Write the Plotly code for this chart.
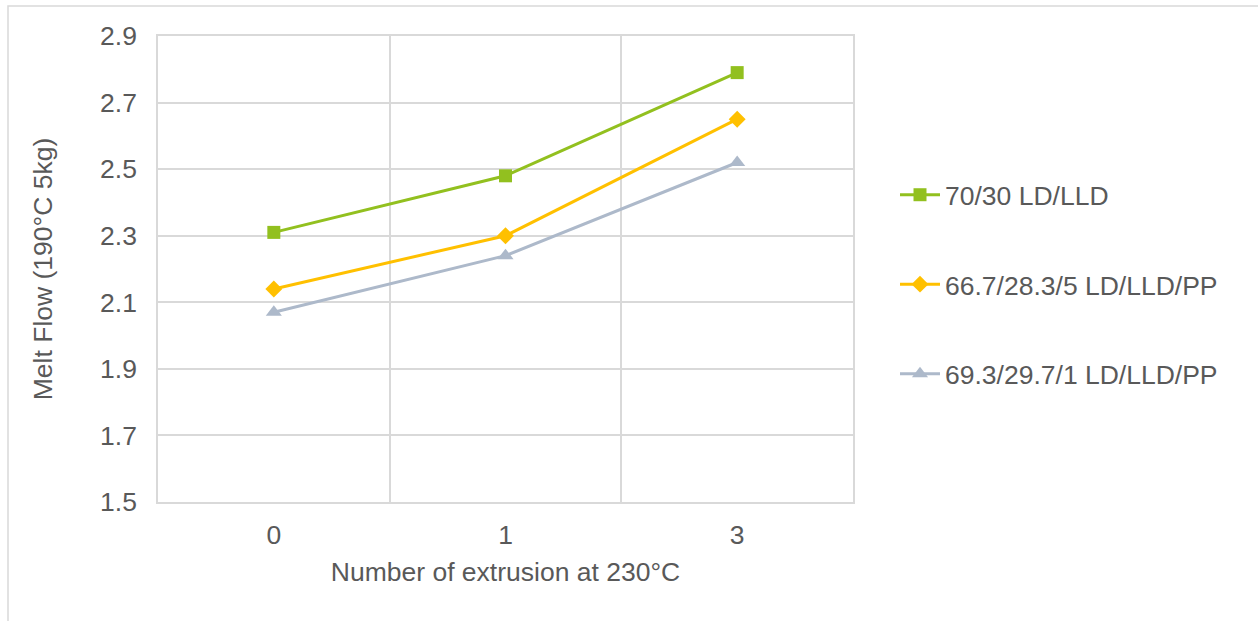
import plotly.graph_objects as go

categories = ["0", "1", "3"]
series_names = ["70/30 LD/LLD", "66.7/28.3/5 LD/LLD/PP", "69.3/29.7/1 LD/LLD/PP"]
green_vals = [2.31, 2.48, 2.79]
orange_vals = [2.14, 2.30, 2.65]
gray_vals = [2.07, 2.24, 2.52]
y_ticks = [1.5, 1.7, 1.9, 2.1, 2.3, 2.5, 2.7, 2.9]

colors = ["#92C01F", "#FFC000", "#ADB9CA"]
symbols = ["square", "diamond", "triangle-up"]
sizes = [13, 13, 14]

x_pos = list(range(len(categories)))
fig = go.Figure()
for i, (name, vals) in enumerate(zip(series_names, [green_vals, orange_vals, gray_vals])):
    fig.add_trace(go.Scatter(
        x=x_pos, y=vals, name=name, mode="lines+markers",
        line=dict(color=colors[i], width=3),
        marker=dict(symbol=symbols[i], size=sizes[i], color=colors[i]),
        legendgroup=f"g{i}",
    ))

W, H = 1258, 621
ml, mr, mt, mb = 158, 405, 36, 119
pw, ph = W - ml - mr, H - mt - mb

FS = 26.5
font = dict(family="Liberation Sans, Arial, sans-serif", size=FS, color="#595959")
grid = "#d9d9d9"

fig.update_layout(
    width=W, height=H,
    margin=dict(l=ml, r=mr, t=mt, b=mb, pad=0),
    paper_bgcolor="white", plot_bgcolor="white",
    font=font,
    showlegend=True,
    legend=dict(x=(895 - ml) / pw, y=(502 - 171) / ph, xanchor="left", yanchor="top",
                font=font, tracegroupgap=52,
                bgcolor="rgba(0,0,0,0)", itemwidth=40),
    xaxis=dict(
        range=[-0.5, 2.5], tickmode="array", tickvals=x_pos, ticktext=categories,
        showgrid=False, zeroline=False,
        showline=True, linecolor=grid, linewidth=1.5, mirror=True,
        ticks="outside", ticklen=8, tickcolor="rgba(0,0,0,0)",
        tickfont=font,
        minor=dict(tickmode="array", tickvals=[0.5, 1.5], showgrid=True, gridcolor=grid, gridwidth=1.5, ticks=""),
        title=dict(text="Number of extrusion at 230°C", font=font, standoff=14),
    ),
    yaxis=dict(
        range=[1.5, 2.9], tickmode="array", tickvals=y_ticks,
        ticktext=[f"{v:.1f}" for v in y_ticks],
        showgrid=True, gridcolor=grid, gridwidth=1.5, zeroline=False,
        showline=True, linecolor=grid, linewidth=1.5, mirror=True,
        ticks="outside", ticklen=14, tickcolor="rgba(0,0,0,0)",
        tickfont=font,
        title=dict(text="Melt Flow (190°C 5kg)", font=font, standoff=40),
    ),
)

# outer chart border
fig.add_shape(type="rect", xref="paper", yref="paper",
              x0=(8 - ml) / pw, x1=(W + 5 - ml) / pw,
              y0=-(mb + 5) / ph, y1=(H - mb - 6) / ph,
              line=dict(color=grid, width=1.5), fillcolor="rgba(0,0,0,0)", layer="below")

fig.write_html("out.html")
